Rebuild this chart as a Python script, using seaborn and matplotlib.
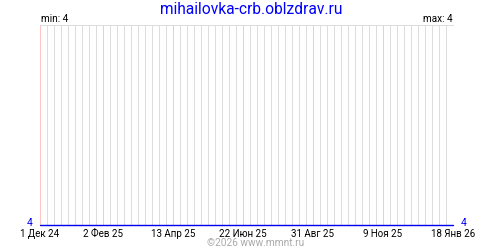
import matplotlib
matplotlib.use("Agg")
import matplotlib.pyplot as plt
import seaborn as sns
import pandas as pd
import numpy as np

title = "mihailovka-crb.oblzdrav.ru"
dates = ["2024-12-01", "2026-01-18"]
values = [4, 4]
tick_dates = ["2024-12-01", "2025-02-02", "2025-04-13", "2025-06-22",
              "2025-08-31", "2025-11-09", "2026-01-18"]
tick_labels = ["1 Дек 24", "2 Фев 25", "13 Апр 25", "22 Июн 25",
               "31 Авг 25", "9 Ноя 25", "18 Янв 26"]
min_val = 4
max_val = 4

sns.set_theme(style="white")
plt.rcParams['font.family'] = ['Roboto', 'DejaVu Sans']

df = pd.DataFrame({"date": pd.to_datetime(dates), "value": values})

fig = plt.figure(figsize=(5, 2.5), dpi=100)
ax = fig.add_axes([40/500, 25/250, 413/500, 200/250])

px = 72 / 100  # one pixel in points
start = pd.Timestamp(dates[0])
end = pd.Timestamp(dates[-1])
tk = pd.to_datetime(tick_dates)
tkset = set(tk)
weeks = pd.date_range(start, end, freq="7D")
for w in weeks:
    if w in tkset:
        continue
    ax.axvline(w, color="#dddddd", lw=px, zorder=0, antialiased=False)
for t in tk:
    ax.axvline(t, color="#ffc4c4", lw=px, zorder=1, antialiased=False)

sns.lineplot(data=df, x="date", y="value", ax=ax, color="#0000ee", lw=1.4 * px, zorder=3)
for ln in ax.get_lines()[-1:]:
    ln.set_clip_on(False)

ax.set_xlim(start, end)
ax.set_ylim(min_val, min_val + 1)
ax.set_xticks(tk)
ax.set_xticklabels(tick_labels, fontsize=7, color="black")
ax.tick_params(axis="x", length=0, pad=3)
ax.set_yticks([])
ax.set_xlabel("")
ax.set_ylabel("")
for s in ["left", "right", "bottom"]:
    ax.spines[s].set_visible(False)
ax.spines["top"].set_color("#dddddd")
ax.spines["top"].set_linewidth(px)

fig.text(251/500, 1 - 10/250, title, color="#0000ff", fontsize=11.2, ha="center", va="center")
fig.text(41/500, 1 - 19/250, f"min: {min_val}", fontsize=7.2, ha="left", va="center", color="black")
fig.text(453/500, 1 - 19/250, f"max: {max_val}", fontsize=7.2, ha="right", va="center", color="black")
fig.text(33/500, 1 - 223/250, str(min_val), fontsize=7.5, ha="right", va="center", color="#0000ee")
fig.text(461/500, 1 - 223/250, str(min_val), fontsize=7.5, ha="left", va="center", color="#0000ee")
fig.text(255.5/500, 1 - 243/250, "©2026 www.mmnt.ru", fontsize=7.3, ha="center", va="center", color="#aaaaaa")

fig.savefig("out.png", dpi=100)
